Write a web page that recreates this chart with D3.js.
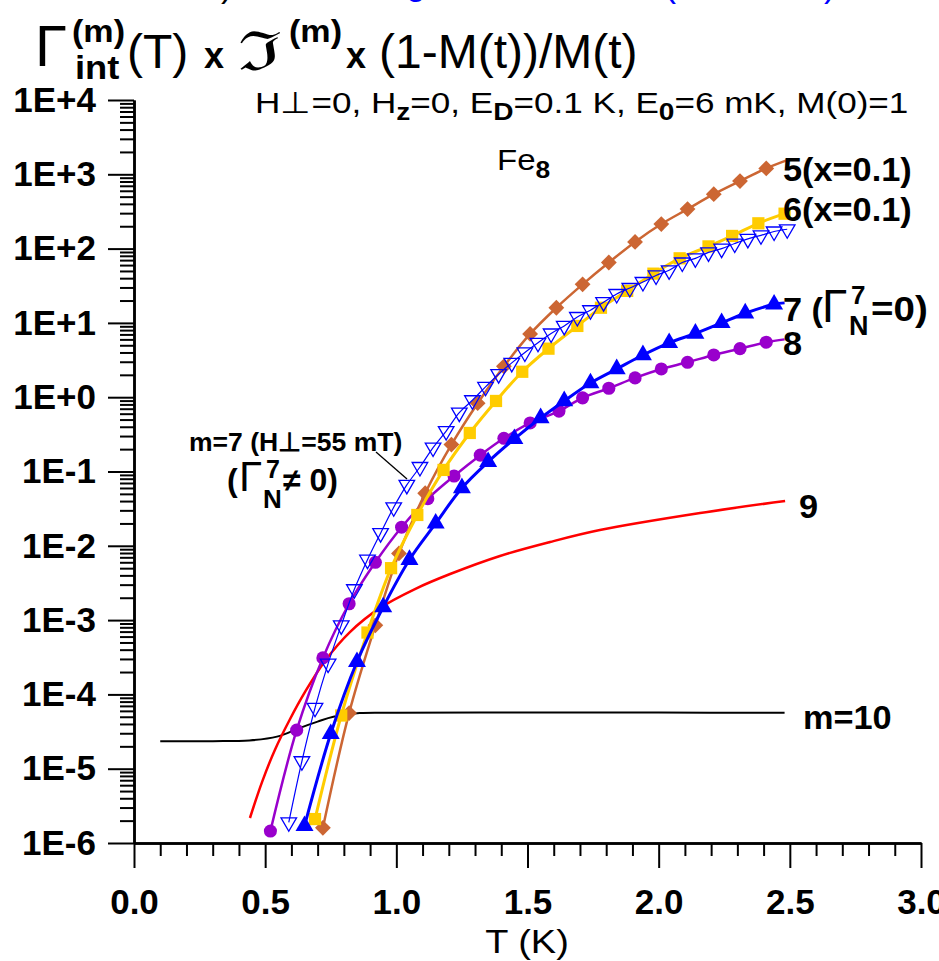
<!DOCTYPE html>
<html>
<head>
<meta charset="utf-8">
<script src="https://cdn.jsdelivr.net/npm/d3@7"></script>
<style>
  body { margin: 0; background: #fff; }
  svg text { font-family: "Liberation Sans", Arial, sans-serif; }
</style>
</head>
<body>
<svg id="chart" width="939" height="961"></svg>
<script>
// T (K) values and curve values
const tempM5 = [0.72, 0.82, 0.92, 1.01, 1.11, 1.21, 1.31, 1.41, 1.51, 1.61, 1.71, 1.81, 1.91, 2.01, 2.11, 2.21, 2.31, 2.41, 2.49];
const valM5 = [1.6e-6, 5.6e-5, 8.5e-4, 7.9e-3, 0.051, 0.23, 0.83, 2.6, 7.1, 16, 33, 65, 123, 214, 340, 540, 810, 1200, 1550];

const tempM6 = [0.69, 0.79, 0.89, 0.98, 1.08, 1.18, 1.28, 1.38, 1.48, 1.58, 1.69, 1.78, 1.88, 1.98, 2.08, 2.19, 2.28, 2.38, 2.48];
const valM6 = [2.1e-6, 5.2e-5, 6.8e-4, 5.0e-3, 0.026, 0.105, 0.33, 0.89, 2.2, 4.5, 9.1, 16, 27, 46, 74, 107, 148, 219, 295];

const tempM7 = [0.65, 0.75, 0.85, 0.95, 1.05, 1.15, 1.25, 1.35, 1.45, 1.55, 1.64, 1.74, 1.84, 1.94, 2.04, 2.14, 2.24, 2.33, 2.44, 2.48];
const valM7 = [1.7e-6, 2.95e-5, 2.75e-4, 1.5e-3, 6.5e-3, 0.020, 0.060, 0.135, 0.275, 0.525, 0.89, 1.55, 2.4, 3.7, 5.4, 7.2, 10, 13.5, 17.8, 18.6];

const tempM8 = [0.52, 0.62, 0.72, 0.82, 0.92, 1.02, 1.12, 1.22, 1.32, 1.41, 1.51, 1.62, 1.71, 1.81, 1.91, 2.01, 2.11, 2.21, 2.31, 2.41, 2.48];
const valM8 = [1.45e-6, 3.3e-5, 3.1e-4, 1.66e-3, 6.0e-3, 0.0178, 0.043, 0.087, 0.166, 0.28, 0.45, 0.65, 0.98, 1.32, 1.82, 2.4, 2.95, 3.7, 4.5, 5.5, 6.0];

const tempM7H = [0.59, 0.64, 0.69, 0.74, 0.79, 0.84, 0.89, 0.94, 0.99, 1.04, 1.09, 1.14, 1.19, 1.24, 1.29, 1.34, 1.39, 1.44, 1.49, 1.54,
  1.59, 1.64, 1.69, 1.74, 1.79, 1.84, 1.89, 1.94, 1.99, 2.04, 2.09, 2.14, 2.19, 2.24, 2.29, 2.34, 2.39, 2.44, 2.49];
const valM7H = [1.9e-6, 1.26e-5, 6.6e-5, 2.6e-4, 8.5e-4, 2.6e-3, 6.5e-3, 0.0148, 0.033, 0.066, 0.115, 0.21, 0.35, 0.62, 0.91, 1.38, 2.04, 2.9, 4.0, 5.4,
  7.2, 9.1, 12, 14.8, 19, 24.5, 29.5, 35.5, 43.5, 51, 65, 74, 89, 100, 117, 135, 151, 170, 182];

const tempM9 = [0.442, 0.488, 0.537, 0.595, 0.652, 0.728, 0.823, 0.938, 1.071, 1.205, 1.395, 1.586, 1.776, 2.158, 2.482];
const valM9 = [2.17e-6, 6.6e-6, 1.79e-5, 4.67e-5, 1.08e-4, 2.82e-4, 6.9e-4, 1.46e-3, 2.62e-3, 4.17e-3, 7.3e-3, 0.01125, 0.0163, 0.0276, 0.0401];

const tempM10 = [0.1, 0.3, 0.44, 0.545, 0.633, 0.70, 0.76, 0.86, 1.0, 1.5, 2.0, 2.48];
const valM10 = [2.35e-5, 2.35e-5, 2.4e-5, 2.7e-5, 3.55e-5, 4.3e-5, 5.0e-5, 5.6e-5, 5.65e-5, 5.7e-5, 5.7e-5, 5.65e-5];

const yMajorTicks = [1e-6, 1e-5, 1e-4, 1e-3, 1e-2, 1e-1, 1e0, 1e1, 1e2, 1e3, 1e4];
const yTickLabels = ["1E-6", "1E-5", "1E-4", "1E-3", "1E-2", "1E-1", "1E+0", "1E+1", "1E+2", "1E+3", "1E+4"];
const xMajorTicks = [0, 0.5, 1, 1.5, 2, 2.5, 3];
const xTickLabels = ["0.0", "0.5", "1.0", "1.5", "2.0", "2.5", "3.0"];

const svg = d3.select("#chart");
const x = d3.scaleLinear().domain([0, 3]).range([134, 921]);
const y = d3.scaleLog().domain([1e-6, 1e4]).range([843, 100]);
const serif = "'Liberation Serif', 'Times New Roman', serif";

function zip(ts, vs) {
  return ts.map((t, i) => ({ t, v: vs[i] }));
}

// ---- axes
const yMinor = [];
yMajorTicks.slice(0, -1).forEach((m) => {
  for (let k = 2; k <= 9; k++) yMinor.push(m * k);
});
const xMinor = d3.range(0, 31).map((i) => i / 10).filter((v) => Math.abs(v * 2 - Math.round(v * 2)) > 1e-6);

const yAxisMinor = svg.append("g").attr("transform", "translate(134,0)")
  .call(d3.axisLeft(y).tickValues(yMinor).tickSize(14).tickSizeOuter(0).tickFormat(""));
const yAxis = svg.append("g").attr("transform", "translate(134,0)")
  .call(d3.axisLeft(y).tickValues(yMajorTicks).tickSize(26).tickSizeOuter(0).tickPadding(12)
    .tickFormat((d, i) => yTickLabels[i]));

const xAxisMinor = svg.append("g").attr("transform", "translate(0,843)")
  .call(d3.axisBottom(x).tickValues(xMinor).tickSize(13).tickSizeOuter(0).tickFormat(""));
const xAxis = svg.append("g").attr("transform", "translate(0,843)")
  .call(d3.axisBottom(x).tickValues(xMajorTicks).tickSize(25).tickSizeOuter(0).tickPadding(21)
    .tickFormat((d, i) => xTickLabels[i]));

[yAxisMinor, yAxis, xAxisMinor, xAxis].forEach((g) => {
  g.select(".domain").attr("stroke", "#000").attr("stroke-width", 2.5);
  g.selectAll(".tick line").attr("stroke", "#000").attr("stroke-width", 2);
  g.selectAll(".tick text")
    .attr("fill", "#000")
    .attr("font-family", "'Liberation Sans', Arial, sans-serif")
    .attr("font-size", 35)
    .attr("font-weight", "bold");
});

// text helper: optional horizontal stretch (the source picture is a bit wide)
function label(xPos, yPos, str, opts = {}) {
  const t = svg.append("text")
    .attr("transform", `translate(${xPos},${yPos}) scale(${opts.sx || 1},1)`)
    .attr("font-size", opts.size || 30)
    .attr("font-weight", opts.weight || "normal")
    .attr("fill", opts.fill || "#000");
  if (opts.family) t.attr("font-family", opts.family);
  if (opts.anchor) t.attr("text-anchor", opts.anchor);
  if (typeof str === "string") {
    t.text(str);
  } else {
    str.forEach((p) => {
      const s = t.append("tspan").text(p.text);
      if (p.size) s.attr("font-size", p.size);
      if (p.weight) s.attr("font-weight", p.weight);
      if (p.dy) s.attr("dy", p.dy);
    });
  }
  return t;
}

label(527, 953, "T (K)", { size: 33, anchor: "middle", sx: 1.15 });

// ---- curves
const lineGen = d3.line()
  .x((d) => x(d.t))
  .y((d) => y(d.v))
  .curve(d3.curveCatmullRom.alpha(0.5));

const layer = svg.append("g");

function drawLine(data, color, width) {
  layer.append("path")
    .datum(data)
    .attr("d", lineGen)
    .attr("fill", "none")
    .attr("stroke", color)
    .attr("stroke-width", width);
}

function drawMarkers(data, opts) {
  layer.append("g")
    .selectAll("path")
    .data(data)
    .join("path")
    .attr("transform", (d) => `translate(${x(d.t)},${y(d.v)}) rotate(${opts.rotate || 0})`)
    .attr("d", d3.symbol().type(opts.type).size(opts.size))
    .attr("fill", opts.fill)
    .attr("stroke", opts.stroke || "none")
    .attr("stroke-width", opts.strokeWidth || 0);
}

const m10 = zip(tempM10, valM10);
const m9 = zip(tempM9, valM9);
const m8 = zip(tempM8, valM8);
const m5 = zip(tempM5, valM5);
const m6 = zip(tempM6, valM6);
const m7 = zip(tempM7, valM7);
const m7h = zip(tempM7H, valM7H);

drawLine(m10, "#000", 2);
drawLine(m9, "#ff0000", 2.5);

drawLine(m8, "#9900cc", 2.5);
drawMarkers(m8.slice(0, -1), { type: d3.symbolCircle, size: 135, fill: "#9900cc" });

drawLine(m5, "#cc6633", 2.5);
drawMarkers(m5.slice(0, -1), { type: d3.symbolSquare, size: 125, fill: "#cc6633", rotate: 45 });

drawLine(m6, "#ffcc00", 3);
drawMarkers(m6, { type: d3.symbolSquare, size: 150, fill: "#ffcc00" });

drawLine(m7, "#0000ff", 3);
drawMarkers(m7.slice(0, -1), { type: d3.symbolTriangle, size: 140, fill: "#0000ff" });

drawLine(m7h, "#0000ff", 1.2);
drawMarkers(m7h, { type: d3.symbolTriangle, size: 105, fill: "none", stroke: "#0000ff", strokeWidth: 1.3, rotate: 180 });

// ---- texts
// cut-off line from above the picture
label(221, -4, ")", { size: 36 });
label(406, -6, "g", { size: 36, fill: "#0000ff" });
label(664, -4, "(", { size: 36, fill: "#0000ff" });
label(706, -10, "x,y", { size: 30, fill: "#ff3300" });
label(824, -4, ")", { size: 36, fill: "#0000ff" });

// title
label(35, 66, "Γ", { size: 58, family: serif });
label(72, 42, "(m)", { size: 31, weight: "bold", sx: 1.1 });
label(75, 79, "int", { size: 33, weight: "bold", sx: 1.1 });
label(127, 68, "(T)", { size: 48 });
label(204, 68, "x", { size: 36, weight: "bold" });
label(238, 70, "ℑ", { size: 54, family: "'DejaVu Serif', serif", sx: 1.45 });
label(289, 42, "(m)", { size: 31, weight: "bold", sx: 1.1 });
label(346, 68, "x", { size: 36, weight: "bold" });
label(379, 68, "(1-M(t))/M(t)", { size: 48 });

// parameter note
label(255, 113, [
  { text: "H⊥=0, H" },
  { text: "z", size: 24, weight: "bold", dy: 7 },
  { text: "=0, E", dy: -7 },
  { text: "D", size: 24, weight: "bold", dy: 7 },
  { text: "=0.1 K, E", dy: -7 },
  { text: "0", size: 24, weight: "bold", dy: 7 },
  { text: "=6 mK, M(0)=1", dy: -7 }
], { size: 30, sx: 1.17 });

label(497, 170, [
  { text: "Fe" },
  { text: "8", size: 24, weight: "bold", dy: 8 }
], { size: 30, sx: 1.1 });

// series labels
const boldLabel = { size: 33, weight: "bold", sx: 1.04 };
label(783, 181, "5(x=0.1)", boldLabel);
label(783, 221, "6(x=0.1)", boldLabel);
label(783, 321, "7 (", boldLabel);
label(822, 322, "Γ", { size: 46, family: serif });
label(851, 304, "7", { size: 26, weight: "bold" });
label(849, 335, "N", { size: 27, weight: "bold" });
label(871, 321, "=0)", { size: 35, weight: "bold", sx: 1.1 });
label(783, 355, "8", boldLabel);
label(799, 518, "9", boldLabel);
label(803, 729, "m=10", boldLabel);

// annotation for m=7 with transverse field
label(189, 451, "m=7 (H⊥=55 mT)", { size: 26, weight: "bold", sx: 1.02 });
label(227, 491, "(", { size: 32, weight: "bold" });
label(239, 491, "Γ", { size: 42, family: serif });
label(266, 478, "7", { size: 25, weight: "bold" });
label(263, 508, "N", { size: 26, weight: "bold" });
label(283, 491, "≠ 0)", { size: 32, weight: "bold" });
svg.append("line")
  .attr("x1", 376).attr("y1", 452).attr("x2", 407).attr("y2", 479)
  .attr("stroke", "#000").attr("stroke-width", 1.3);
</script>
</body>
</html>
